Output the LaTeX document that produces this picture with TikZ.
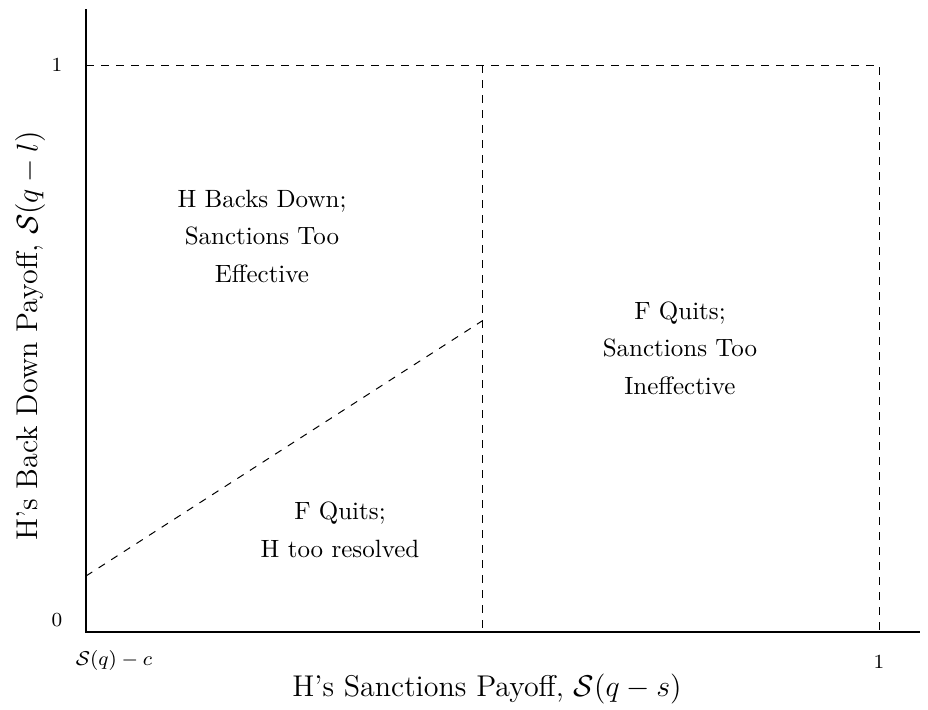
\documentclass[tikz,border=0pt]{standalone}
\usepackage{amsmath}
\begin{document}
\begin{tikzpicture}[x=0.4pt,y=-0.4pt,
  axis/.style={line width=0.9pt},
  guide/.style={dashed,line width=0.4pt},
  region/.style={align=center,font=\fontsize{10}{15}\selectfont},
  ticklab/.style={font=\footnotesize},
  axislab/.style={font=\large}]
\useasboundingbox (0,0) rectangle (928,709);
\coordinate (O) at (86,632);
\coordinate (Ytop) at (86,9);
\coordinate (Xend) at (920,632);
\coordinate (TL) at (86,65);
\coordinate (TM) at (482,65);
\coordinate (TR) at (879,65);
\coordinate (BM) at (482,632);
\coordinate (BR) at (879,632);
\coordinate (D0) at (86,576);
\coordinate (D1) at (482,321);
\draw[axis] (Ytop) -- (O) -- (Xend);
\draw[guide] (TL) -- (TR) -- (BR);
\draw[guide] (TM) -- (BM);
\draw[guide] (D0) -- (D1);
\node[ticklab] (y1) at (57,65) {1};
\node[ticklab] (y0) at (57,620) {0};
\node[ticklab] (x0) at (114,660) {$\mathcal{S}(q)-c$};
\node[ticklab] (x1) at (879,662) {1};
\node[region] (r1) at (262,236) {H Backs Down;\\Sanctions Too\\Effective};
\node[region] (r2) at (680,348) {F Quits;\\Sanctions Too\\Ineffective};
\node[region] (r3) at (340,530) {F Quits;\\H too resolved};
\node[axislab] (xl) at (487,689) {H's Sanctions Payoff, $\mathcal{S}(q-s)$};
\node[axislab,rotate=90] (yl) at (30,336) {H's Back Down Payoff, $\mathcal{S}(q-l)$};
\end{tikzpicture}
\end{document}
